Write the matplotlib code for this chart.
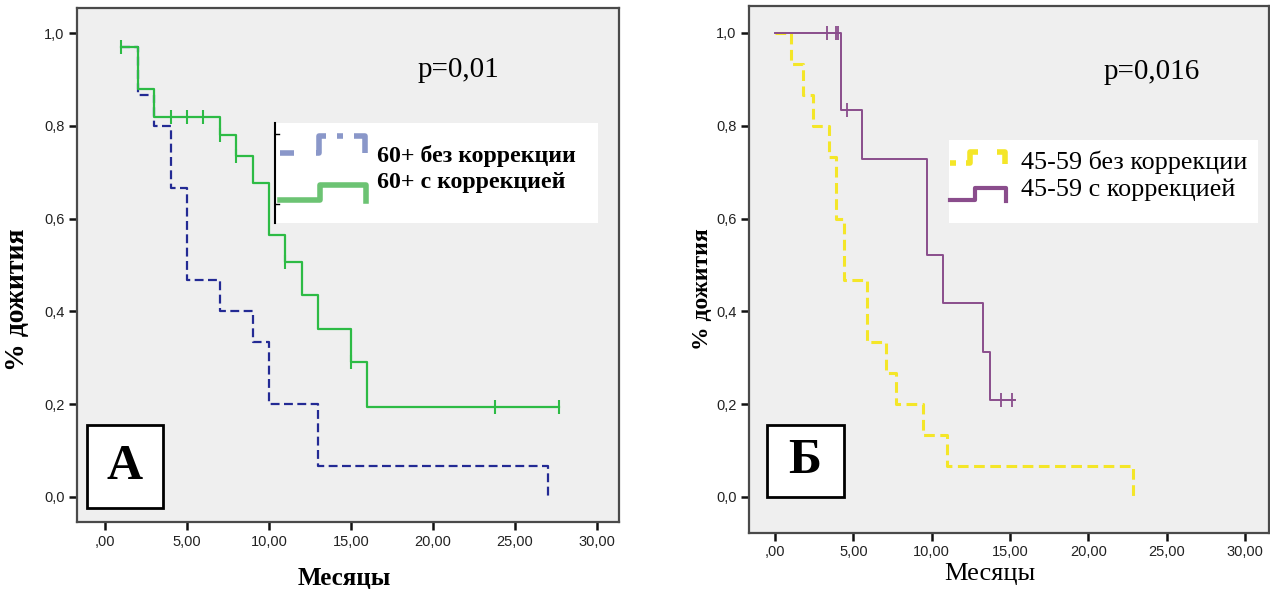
import matplotlib
matplotlib.use("Agg")
import matplotlib.pyplot as plt
from matplotlib.patches import Rectangle
from matplotlib.lines import Line2D

# ---------------- data ----------------
# Panel A (60+)
green_t = [1, 2, 3, 7, 8, 9, 10, 11, 12, 13, 15, 16, 27.7]
green_s = [0.97, 0.88, 0.82, 0.78, 0.735, 0.677, 0.565, 0.506, 0.435, 0.362, 0.29, 0.193, 0.193]
green_cens_t = [1, 4, 5, 6, 7, 8, 11, 15, 23.8, 27.7]
green_cens_s = [0.97, 0.82, 0.82, 0.82, 0.78, 0.735, 0.506, 0.29, 0.193, 0.193]

blue_t = [1, 2, 3, 4, 5, 7, 9, 10, 13, 27]
blue_s = [0.97, 0.867, 0.80, 0.667, 0.467, 0.40, 0.333, 0.20, 0.067, 0.0]

# Panel Б (45-59)
purple_t = [0, 4.2, 5.55, 9.7, 10.7, 13.3, 13.7, 15.3]
purple_s = [1.0, 0.833, 0.729, 0.521, 0.417, 0.3125, 0.208, 0.208]
purple_cens_t = [3.3, 3.9, 4.05, 4.6, 14.4, 15.1]
purple_cens_s = [1.0, 1.0, 1.0, 0.833, 0.208, 0.208]

yellow_t = [0, 1.0, 1.8, 2.4, 3.45, 3.9, 4.4, 5.9, 7.1, 7.7, 9.45, 11.0, 22.85]
yellow_s = [1.0, 0.933, 0.867, 0.80, 0.733, 0.60, 0.467, 0.333, 0.267, 0.20, 0.133, 0.067, 0.0]

x_ticks = [0, 5, 10, 15, 20, 25, 30]
x_ticklabels = [",00", "5,00", "10,00", "15,00", "20,00", "25,00", "30,00"]
y_ticks = [0.0, 0.2, 0.4, 0.6, 0.8, 1.0]
y_ticklabels = ["0,0", "0,2", "0,4", "0,6", "0,8", "1,0"]

legend_A = ["60+ без коррекции", "60+ с коррекцией"]
legend_B = ["45-59 без коррекции", "45-59 с коррекцией"]
p_A = "p=0,01"
p_B = "p=0,016"
xlabel = "Месяцы"
ylabel = "% дожития"

# ---------------- colors ----------------
C_BLUE = "#232a94"
C_GREEN = "#2dbb45"
C_PURPLE = "#8a4d8c"
C_YELLOW = "#f4e628"
BG = "#efefef"

W, H = 1270, 589
fig = plt.figure(figsize=(W / 100, H / 100), dpi=100)
fig.patch.set_facecolor("white")


def axrect(l, t, r, b):
    return [l / W, 1 - b / H, (r - l) / W, (b - t) / H]


def fx(x):
    return x / W


def fy(y):
    return 1 - y / H


SERIF = ["Liberation Serif", "DejaVu Serif"]
SANS = ["Liberation Sans", "DejaVu Sans"]


def style_axes(ax, xlim, ylim):
    ax.set_facecolor(BG)
    ax.set_xlim(*xlim)
    ax.set_ylim(*ylim)
    ax.set_xticks(x_ticks)
    ax.set_xticklabels(x_ticklabels, fontfamily=SANS, fontsize=10.5, color="#222222")
    ax.set_yticks(y_ticks)
    ax.set_yticklabels(y_ticklabels, fontfamily=SANS, fontsize=10.5, color="#222222")
    for s in ax.spines.values():
        s.set_color("#4a4a4a")
        s.set_linewidth(1.6)
    ax.tick_params(direction="out", length=6, width=1.8, color="#111111", pad=3)


# ---------------- panel A ----------------
axA = fig.add_axes(axrect(77, 8, 619, 522))
style_axes(axA, (-1.707, 31.34), (-0.054, 1.054))
axA.step(blue_t, blue_s, where="post", color=C_BLUE, lw=1.6, ls=(0, (4, 2)), zorder=3)
axA.step(green_t, green_s, where="post", color=C_GREEN, lw=1.6, zorder=4)
axA.plot(green_cens_t, green_cens_s, ls="none", marker="|", ms=10, mew=1.5, color=C_GREEN, zorder=5)

# ---------------- panel Б ----------------
axB = fig.add_axes(axrect(749, 6, 1269, 533))
style_axes(axB, (-1.66, 31.52), (-0.0776, 1.058))
axB.step(yellow_t, yellow_s, where="post", color=C_YELLOW, lw=2.2, ls=(0, (3.5, 1.8)), zorder=3)
axB.step(purple_t, purple_s, where="post", color=C_PURPLE, lw=1.4, zorder=4)
axB.plot(purple_cens_t, purple_cens_s, ls="none", marker="|", ms=10, mew=1.3, color=C_PURPLE, zorder=5)

# ---------------- axis labels ----------------
fig.text(fx(344), fy(578), xlabel, ha="center", va="center", fontfamily=SERIF,
         fontweight="bold", fontsize=18)
fig.text(fx(990), fy(574), xlabel, ha="center", va="center", fontfamily=SERIF,
         fontsize=19)
fig.text(fx(18), fy(300), ylabel, ha="center", va="center", rotation=90,
         fontfamily=SERIF, fontweight="bold", fontsize=20)
fig.text(fx(703), fy(289), ylabel, ha="center", va="center", rotation=90,
         fontfamily=SERIF, fontweight="bold", fontsize=17)

# ---------------- p values ----------------
fig.text(fx(418), fy(70), p_A, ha="left", va="center", fontfamily=SERIF, fontsize=21)
fig.text(fx(1104), fy(72), p_B, ha="left", va="center", fontfamily=SERIF, fontsize=21)

# ---------------- panel letters ----------------
fig.add_artist(Rectangle((fx(87), fy(508)), (163 - 87) / W, (508 - 425) / H,
                         transform=fig.transFigure, facecolor="white", edgecolor="black",
                         lw=2, zorder=10))
fig.text(fx(125), fy(467), "А", ha="center", va="center", fontfamily=SERIF,
         fontweight="bold", fontsize=36, zorder=11)
fig.add_artist(Rectangle((fx(767), fy(497)), (844 - 767) / W, (497 - 425) / H,
                         transform=fig.transFigure, facecolor="white", edgecolor="black",
                         lw=2, zorder=10))
fig.text(fx(805), fy(461), "Б", ha="center", va="center", fontfamily=SERIF,
         fontweight="bold", fontsize=36, zorder=11)

# ---------------- legend A ----------------
fig.add_artist(Rectangle((fx(274), fy(223)), (598 - 274) / W, (223 - 123) / H,
                         transform=fig.transFigure, facecolor="white", edgecolor="none",
                         zorder=10))
fig.add_artist(Line2D([fx(275), fx(275)], [fy(123), fy(223)], transform=fig.transFigure,
                      color="black", lw=1.5, zorder=11))
for yy in (134, 204):
    fig.add_artist(Line2D([fx(275), fx(279)], [fy(yy), fy(yy)], transform=fig.transFigure,
                          color="black", lw=1, zorder=11))
# blue dashed step icon
for xs, ys in (([280, 294], [153, 153]),
               ([316, 319, 319, 326], [153, 153, 136, 136]),
               ([337, 343], [136, 136]),
               ([354, 365, 365], [136, 136, 153])):
    fig.add_artist(Line2D([fx(v) for v in xs], [fy(v) for v in ys], transform=fig.transFigure,
                          color="#8a97c9", lw=4, solid_capstyle="butt", zorder=11))
fig.add_artist(Line2D([fx(v) for v in (280, 320, 320, 366, 366)],
                      [fy(v) for v in (200, 200, 185, 185, 201)],
                      transform=fig.transFigure, color="#6cc373", lw=4, zorder=11))
fig.text(fx(377), fy(156), legend_A[0], ha="left", va="center", fontfamily=SERIF,
         fontweight="bold", fontsize=17.2, zorder=12)
fig.text(fx(377), fy(183), legend_A[1], ha="left", va="center", fontfamily=SERIF,
         fontweight="bold", fontsize=17.2, zorder=12)

# ---------------- legend Б ----------------
fig.add_artist(Rectangle((fx(949), fy(223)), (1258 - 949) / W, (223 - 140) / H,
                         transform=fig.transFigure, facecolor="white", edgecolor="none",
                         zorder=10))
for xs, ys in (([950, 956], [163, 163]),
               ([966, 970, 970, 978], [163, 163, 152, 152]),
               ([997, 1005, 1005], [152, 152, 164])):
    fig.add_artist(Line2D([fx(v) for v in xs], [fy(v) for v in ys], transform=fig.transFigure,
                          color=C_YELLOW, lw=4, solid_capstyle="butt", zorder=11))
fig.add_artist(Line2D([fx(v) for v in (950, 975, 975, 1006, 1006)],
                      [fy(v) for v in (200, 200, 188, 188, 201)],
                      transform=fig.transFigure, color=C_PURPLE, lw=3, zorder=11))
fig.text(fx(1021), fy(162), legend_B[0], ha="left", va="center", fontfamily=SERIF,
         fontsize=18.8, zorder=12)
fig.text(fx(1021), fy(190), legend_B[1], ha="left", va="center", fontfamily=SERIF,
         fontsize=18.8, zorder=12)

fig.savefig("out.png", dpi=100, facecolor="white")
